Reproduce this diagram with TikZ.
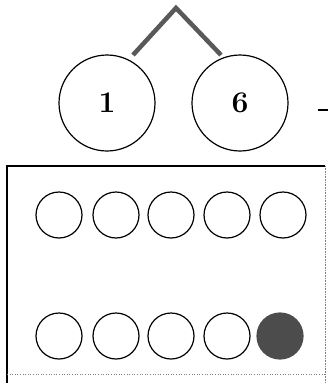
\documentclass[tikz,border=0pt]{standalone}
\usepackage{fontspec}
\setmainfont{Latin Modern Roman}
\begin{document}
\begin{tikzpicture}[x=1pt,y=-1pt,
  bigcirc/.style={circle,draw=black,line width=1.2pt,minimum size=96pt,inner sep=0pt,
    font=\fontsize{30}{32}\selectfont\bfseries},
  dot/.style={circle,draw=black,line width=1.2pt,minimum size=46pt,inner sep=0pt},
  fulldot/.style={dot,fill=black!70,draw=black!70},
  branch/.style={draw=black!65,line width=4.5pt}]
\useasboundingbox (0,0) rectangle (328,383);
% number bond
\node[bigcirc] (a) at (107,103) {1};
\node[bigcirc] (b) at (240,103) {6};
\coordinate (top) at (176,8);
\coordinate (la) at (133,55);
\coordinate (lb) at (221,55);
\draw[branch] (la) -- (top) -- (lb);
\coordinate (m1) at (318,110);
\coordinate (m2) at (329,110);
\draw[line width=1.2pt] (m1) -- (m2);
% ten frame
\draw[line width=1.5pt] (7,383) -- (7,166) -- (325,166);
\draw[black!50,densely dotted,line width=0.6pt] (325,166) -- (325,383);
\draw[black!50,dotted,line width=0.6pt] (7,374) -- (325,374);
\foreach \i/\x in {1/59,2/116,3/171,4/227,5/283}{
  \node[dot] (t\i) at (\x,215) {};
}
\foreach \i/\x in {1/59,2/116,3/171,4/227}{
  \node[dot] (u\i) at (\x,336) {};
}
\node[fulldot] (u5) at (280,336) {};
\end{tikzpicture}
\end{document}
